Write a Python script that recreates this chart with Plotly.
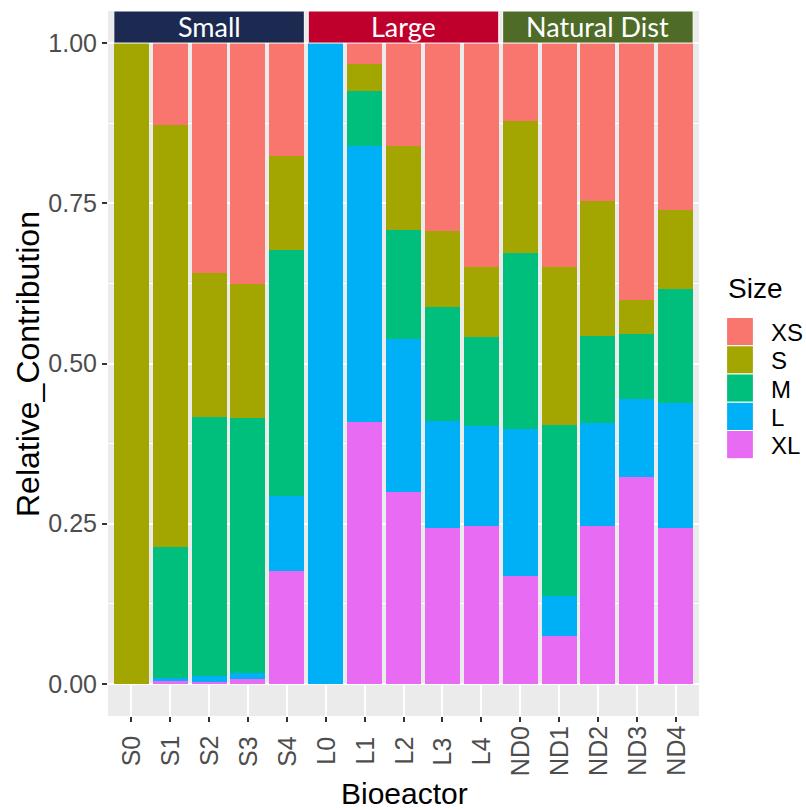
import plotly.graph_objects as go

# ---- data ----
reactors = ["S0", "S1", "S2", "S3", "S4",
            "L0", "L1", "L2", "L3", "L4",
            "ND0", "ND1", "ND2", "ND3", "ND4"]
sizes = ["XS", "S", "M", "L", "XL"]
size_colors = ["#F8766D", "#A3A500", "#00BF7D", "#00B0F6", "#E76BF3"]

xs_vals = [0.0, 0.1285, 0.359, 0.376, 0.177, 0.0, 0.032, 0.1613, 0.294, 0.3495, 0.1223, 0.3495, 0.247, 0.4005, 0.2605]
s_vals = [1.0, 0.6575, 0.2245, 0.2096, 0.1465, 0.0, 0.0435, 0.1297, 0.118, 0.1095, 0.2059, 0.247, 0.21, 0.0541, 0.1225]
m_vals = [0.0, 0.2046, 0.404, 0.3968, 0.3825, 0.0, 0.0855, 0.171, 0.177, 0.138, 0.2738, 0.2665, 0.136, 0.1008, 0.1786]
l_vals = [0.0, 0.0054, 0.0089, 0.0102, 0.1175, 1.0, 0.431, 0.238, 0.167, 0.1565, 0.229, 0.062, 0.1605, 0.1216, 0.1956]
xl_vals = [0.0, 0.004, 0.0036, 0.0074, 0.1765, 0.0, 0.408, 0.300, 0.244, 0.2465, 0.169, 0.075, 0.2465, 0.323, 0.2428]

groups = ["Small", "Large", "Natural Dist"]
group_prefix = ["S", "L", "ND"]
group_colors = ["#1C2A52", "#C0002C", "#4E6B27"]

y_ticks = [0, 0.25, 0.5, 0.75, 1.0]
y_ticklabels = ["0.00", "0.25", "0.50", "0.75", "1.00"]

# ---- layout geometry (pixels) ----
W, H = 806, 810
ML, MR, MT, MB = 108, 107, 11, 94
PW = W - ML - MR
PH = H - MT - MB


def px_x(p):
    return (p - ML) / PW


def px_y(p):
    return (H - MB - p) / PH


series = {"XS": xs_vals, "S": s_vals, "M": m_vals, "L": l_vals, "XL": xl_vals}
xpos = list(range(len(reactors)))

fig = go.Figure()
# stack bottom-up: XL first
for name in reversed(sizes):
    col = size_colors[sizes.index(name)]
    fig.add_trace(go.Bar(
        x=xpos, y=series[name], name=name, width=0.9,
        marker=dict(color=col, line=dict(width=0)),
        showlegend=False, hoverinfo="x+y+name",
    ))

shapes = []
annotations = []

# strips as rectangles above the bars
for g, pre, gc in zip(groups, group_prefix, group_colors):
    idx = [i for i, r in enumerate(reactors) if r.rstrip("0123456789") == pre]
    x0, x1 = min(idx) - 0.45, max(idx) + 0.45
    shapes.append(dict(type="rect", xref="x", yref="y", x0=x0, x1=x1, y0=1.0, y1=1.05,
                       fillcolor=gc, line=dict(color="white", width=1), layer="above"))
    annotations.append(dict(x=(x0 + x1) / 2, y=1.026, xref="x", yref="y", text=g,
                            showarrow=False, xanchor="center", yanchor="middle",
                            font=dict(family="Lato", size=27, color="white")))

# x tick labels (rotated, centred)
for i, r in enumerate(reactors):
    annotations.append(dict(x=i, y=px_y(751), xref="x", yref="paper", text=r, textangle=-90,
                            showarrow=False, xanchor="center", yanchor="middle",
                            font=dict(family="Liberation Sans", size=25, color="#4D4D4D")))

# axis titles
annotations.append(dict(x=px_x(404), y=px_y(793), xref="paper", yref="paper", text="Bioeactor",
                        showarrow=False, xanchor="center", yanchor="middle",
                        font=dict(family="Liberation Sans", size=30, color="black")))
annotations.append(dict(x=px_x(28), y=px_y(364), xref="paper", yref="paper",
                        text="Relative_Contribution", textangle=-90,
                        showarrow=False, xanchor="center", yanchor="middle",
                        font=dict(family="Liberation Sans", size=32, color="black")))

# legend (ggplot style)
annotations.append(dict(x=px_x(726), y=px_y(288), xref="paper", yref="paper", text="Size",
                        showarrow=False, xanchor="left", yanchor="middle",
                        font=dict(family="Liberation Sans", size=28, color="black")))
key_top = 317.5
key_h = 28.25
for k, (name, col) in enumerate(zip(sizes, size_colors)):
    t = key_top + k * key_h
    shapes.append(dict(type="rect", xref="paper", yref="paper",
                       x0=px_x(726.5), x1=px_x(753.5), y0=px_y(t + key_h), y1=px_y(t),
                       fillcolor=col, line=dict(color="white", width=1.2)))
    annotations.append(dict(x=px_x(769), y=px_y(t + key_h / 2 + 1), xref="paper", yref="paper",
                            text=name, showarrow=False, xanchor="left", yanchor="middle",
                            font=dict(family="Liberation Sans", size=24, color="black")))

fig.update_layout(
    width=W, height=H,
    margin=dict(l=ML, r=MR, t=MT, b=MB, pad=0),
    paper_bgcolor="white", plot_bgcolor="#EBEBEB",
    barmode="stack", bargap=0,
    shapes=shapes, annotations=annotations,
    showlegend=False,
    font=dict(family="Liberation Sans"),
)
fig.update_xaxes(
    range=[-0.6, len(reactors) - 0.4], tickvals=xpos, showticklabels=False,
    ticks="outside", ticklen=5, tickwidth=1.5, tickcolor="#333333",
    showgrid=True, gridcolor="white", gridwidth=1.5, zeroline=False, showline=False,
)
fig.update_yaxes(
    range=[-0.05, 1.05], tickvals=y_ticks, ticktext=y_ticklabels,
    ticks="outside", ticklen=5, tickwidth=1.5, tickcolor="#333333",
    tickfont=dict(family="Liberation Sans", size=25, color="#4D4D4D"),
    showgrid=True, gridcolor="white", gridwidth=1.5, zeroline=False, showline=False,
    minor=dict(tickvals=[0.125, 0.375, 0.625, 0.875], showgrid=True, gridcolor="white",
               gridwidth=0.7, ticks=""),
)

fig.write_html("out.html", config={"displayModeBar": False},
               post_script="document.body.style.margin='0';")
